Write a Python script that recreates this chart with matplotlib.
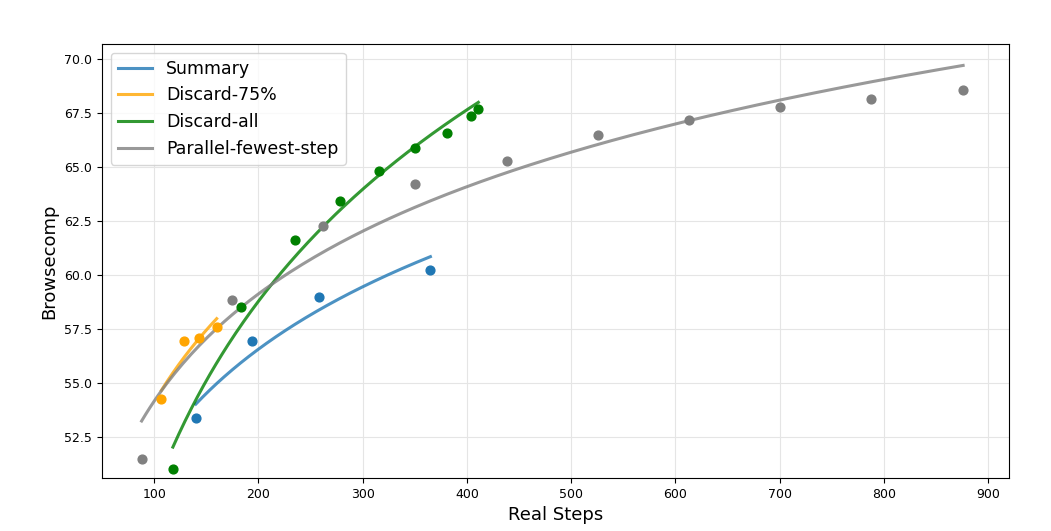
import numpy as np
import matplotlib.pyplot as plt

# 数据
sum_x = [140, 194, 258, 365]
sum_y = [53.4, 56.95, 59.0, 60.25]
d75_x = [107, 129, 143, 160]
d75_y = [54.25, 56.95, 57.1, 57.6]
dall_x = [118, 183, 235, 278, 316, 350, 381, 404, 411]
dall_y = [51.0, 58.5, 61.6, 63.45, 64.8, 65.9, 66.6, 67.35, 67.7]
par_x = [88, 175, 262, 350, 438, 526, 613, 700, 788, 876]
par_y = [51.5, 58.85, 62.25, 64.2, 65.3, 66.5, 67.2, 67.8, 68.15, 68.55]

series = [
    ("Summary", sum_x, sum_y, "#1f77b4"),
    ("Discard-75%", d75_x, d75_y, "orange"),
    ("Discard-all", dall_x, dall_y, "green"),
    ("Parallel-fewest-step", par_x, par_y, "gray"),
]

fig = plt.figure(figsize=(10.51, 5.31), dpi=100)
ax = fig.add_axes([102 / 1051, 53 / 531, 907 / 1051, 434 / 531])

for name, xs, ys, c in series:
    xs = np.array(xs, float)
    ys = np.array(ys, float)
    k, b = np.polyfit(np.log(xs), ys, 1)
    xx = np.linspace(xs.min(), xs.max(), 200)
    ax.plot(xx, k * np.log(xx) + b, color=c, lw=2.2, alpha=0.8, label=name)
    ax.scatter(xs, ys, color=c, s=40, zorder=3)

ax.set_xlim(50, 920)
ax.set_ylim(50.6, 70.7)
ax.set_yticks(np.arange(52.5, 70.1, 2.5))
ax.set_xticks(range(100, 901, 100))
ax.tick_params(labelsize=9)
ax.set_xlabel("Real Steps", fontsize=13)
ax.set_ylabel("Browsecomp", fontsize=13)
ax.grid(True, color="#e5e5e5", lw=0.8)
ax.legend(loc="upper left", fontsize=12.5)

fig.savefig("out.png", dpi=100)
